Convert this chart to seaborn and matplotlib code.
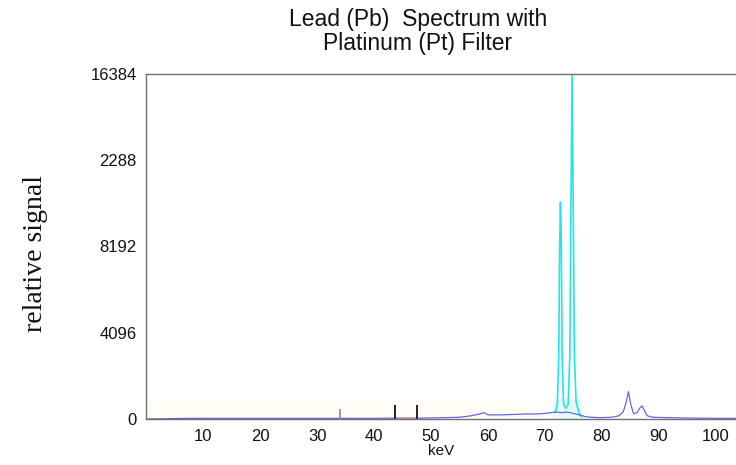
import numpy as np
import matplotlib
matplotlib.use("Agg")
import matplotlib.pyplot as plt
import seaborn as sns

# blue trace (overall spectrum)
blue_kev = [0, 3, 6, 10, 20, 30, 40, 44, 48, 52, 55, 57, 58.5, 59.3, 60, 61, 63, 65,
            67, 68, 70, 71, 72, 73, 74, 75, 76, 77, 78, 80, 82, 83, 83.8, 84.3,
            84.7, 85.1, 85.6, 86.2, 86.7, 87.1, 87.5, 88.0, 89, 92, 96, 100, 104]
blue_counts = [0, 10, 25, 30, 30, 30, 30, 40, 40, 60, 80, 150, 230, 300, 200, 190, 200, 220,
               240, 230, 260, 300, 330, 300, 330, 260, 200, 120, 80, 60, 90, 150, 350, 800,
               1300, 700, 250, 300, 520, 620, 400, 150, 80, 60, 40, 30, 30]

# cyan trace (Pb K-alpha lines)
cyan_kev = [71.8, 72.2, 72.45, 72.6, 72.75, 72.9, 73.05, 73.3, 73.7, 74.1, 74.4, 74.6,
            74.8, 75.0, 75.2, 75.5, 76.0, 76.5]
cyan_counts = [300, 700, 3000, 8000, 10300, 8500, 3000, 700, 500, 700, 3000, 10000,
               16500, 10000, 3000, 800, 300, 100]

# small black marks near the baseline
mark_kev = [34.0, 43.6, 47.5]
mark_top = [450, 650, 650]
mark_col = ["#999999", "#222222", "#222222"]

# red stretch on the baseline
red_kev = [44.0, 47.3]
red_counts = [35, 35]

y_ticks = [0, 4096, 8192, 12288, 16384]
y_labels = ["0", "4096", "8192", "2288", "16384"]
x_ticks = [10, 20, 30, 40, 50, 60, 70, 80, 90, 100]

sns.set_style("white")
plt.rcParams["font.family"] = ["Liberation Sans", "DejaVu Sans"]

fig = plt.figure(figsize=(7.36, 4.65), dpi=100)
ax = fig.add_axes([0.199, 0.099, 0.801, 0.742])

# faint tinted band along the bottom
ax.axhspan(0, 900, xmin=0.0, xmax=0.68, color="#fffdf0", alpha=0.6, lw=0)
ax.fill_between([71.5, 76.5], 0, 950, color="#d8f7f5", alpha=0.6, lw=0)

sns.lineplot(x=cyan_kev, y=cyan_counts, ax=ax, color="#22e6e6", lw=1.2)
sns.lineplot(x=blue_kev, y=blue_counts, ax=ax, color="#6666dd", lw=0.9)
sns.lineplot(x=red_kev, y=red_counts, ax=ax, color="#e88080", lw=1.0)
ax.vlines(mark_kev, 0, mark_top, colors=mark_col, lw=1.4)

ax.set_xlim(0, 103.6)
ax.set_ylim(0, 16384)
ax.set_yticks(y_ticks)
ax.set_yticklabels(y_labels)
ax.set_xticks(x_ticks)

for side in ["left", "top", "bottom"]:
    ax.spines[side].set_color("#707070")
    ax.spines[side].set_linewidth(1.0)
ax.spines["right"].set_visible(False)

ax.tick_params(axis="both", direction="inout", colors="#555555", labelcolor="#111111",
               labelsize=12, width=1.0)
ax.tick_params(axis="x", length=12, pad=1)
ax.tick_params(axis="y", length=10, pad=2)

ax.set_xlabel("keV", fontsize=11, labelpad=0, color="#111111")
ax.set_ylabel("")
fig.text(0.048, 0.455, "relative signal", rotation=90, ha="center", va="center",
         fontsize=20, color="#111111", family=["Liberation Serif", "DejaVu Serif"])

fig.text(0.568, 0.932, "Lead (Pb)  Spectrum with\nPlatinum (Pt) Filter",
         ha="center", va="center", fontsize=16.5, linespacing=1.05, color="#111111")

fig.savefig("out.png", dpi=100)
